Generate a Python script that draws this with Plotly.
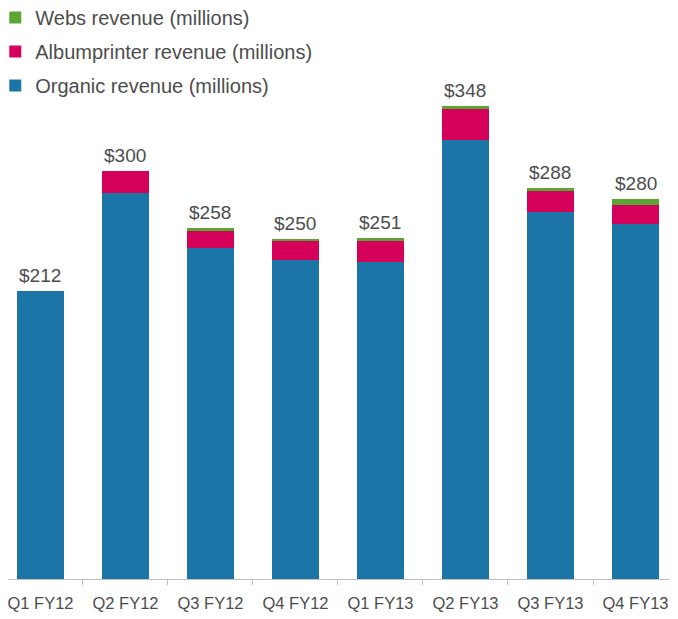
import plotly.graph_objects as go

quarters = ["Q1 FY12", "Q2 FY12", "Q3 FY12", "Q4 FY12", "Q1 FY13", "Q2 FY13", "Q3 FY13", "Q4 FY13"]
organic = [212, 284, 244, 235, 233, 323, 270, 261]
albumprinter = [0, 16, 12.5, 14.5, 16, 22.7, 15.5, 14.5]
webs = [0, 0, 1.5, 0.5, 2, 2.3, 2.5, 4.5]
totals = [212, 300, 258, 250, 251, 348, 288, 280]

text_color = "#4d4d4d"
font_family = "Liberation Sans, Arial, sans-serif"

fig = go.Figure()
series = [
    ("Organic revenue (millions)", organic, "#1c75a7", 3),
    ("Albumprinter revenue (millions)", albumprinter, "#d50059", 2),
    ("Webs revenue (millions)", webs, "#5ba533", 1),
]
for name, values, color, rank in series:
    fig.add_trace(go.Bar(
        x=quarters, y=values, name=name, marker_color=color,
        marker_line_width=0, width=0.55, legendgroup=name, legendrank=rank,
    ))

for q, t in zip(quarters, totals):
    fig.add_annotation(
        x=q, y=t, text=f"${t}", showarrow=False, yanchor="bottom", yshift=3,
        font=dict(size=19, color=text_color, family=font_family),
    )

# page body has an 8px margin, so the figure is a bit smaller than the window
fig.update_layout(
    barmode="stack",
    width=670, height=611,
    margin=dict(l=0, r=0, t=0, b=40, autoexpand=False),
    paper_bgcolor="white", plot_bgcolor="white",
    font=dict(family=font_family, color=text_color),
    showlegend=True,
    legend=dict(
        x=-0.019, y=1.0175, xanchor="left", yanchor="top",
        traceorder="grouped", tracegroupgap=5,
        font=dict(size=20, color=text_color, family=font_family),
        bgcolor="rgba(0,0,0,0)", itemwidth=30,
    ),
    xaxis=dict(
        range=[-0.382, 7.5],
        showline=True, linecolor="#bfbfbf", linewidth=1, automargin=False,
        ticks="outside", tickson="boundaries", ticklen=5, tickcolor="#bfbfbf",
        tickfont=dict(size=16.5, color=text_color), ticklabelstandoff=9,
        showgrid=False,
    ),
    yaxis=dict(range=[0, 420.3], visible=False, showgrid=False, automargin=False),
)

fig.write_html("out.html")
